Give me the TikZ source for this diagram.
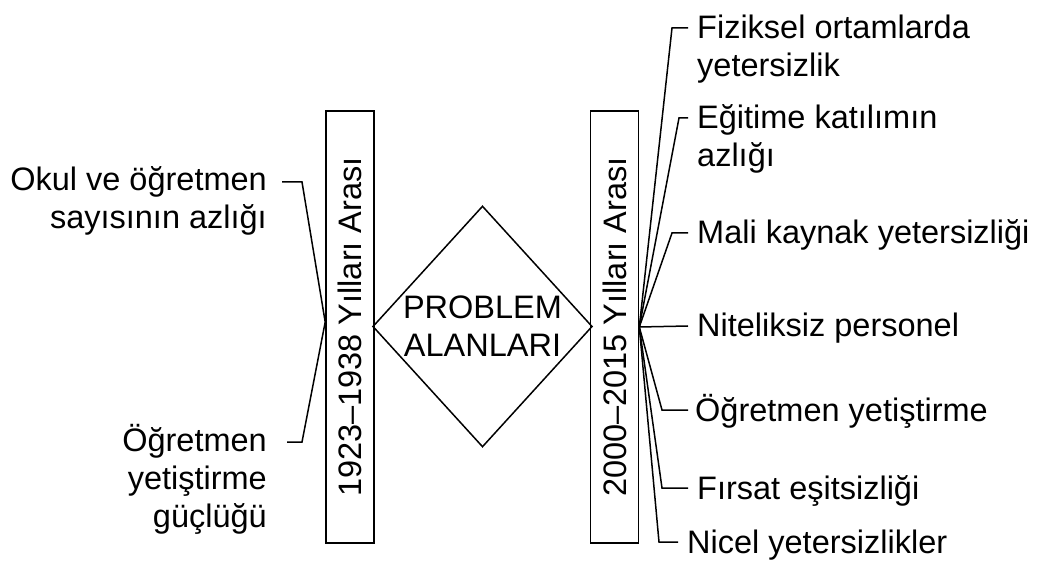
\documentclass[tikz,border=0pt]{standalone}
\usepackage{fontspec}
\setmainfont{Liberation Sans}
\usetikzlibrary{shapes.geometric,calc}
\begin{document}
\begin{tikzpicture}[x=1pt,y=-1pt,
  every node/.style={font=\fontsize{32.5}{38}\selectfont, inner sep=0pt},
  erabox/.style={draw, line width=1.6pt, rotate=90, minimum width=432pt, minimum height=48pt},
  link/.style={line width=1.5pt},
  lbl/.style={anchor=base west},
  lblr/.style={anchor=base east}]
\useasboundingbox (0,0) rectangle (1042,561);

% the two period boxes and the central diamond
\node[erabox] (era1) at (350,327) {1923–1938 Yılları Arası};
\node[erabox] (era2) at (614.5,327) {2000–2015 Yılları Arası};
\node[draw, diamond, line width=1.5pt, minimum width=217pt, minimum height=241pt,
      align=center] (core) at (482.5,326.5) {PROBLEM\\ALANLARI};

% hubs where the connectors meet the boxes
\coordinate (lhub) at ([yshift=5pt]era1.north);
\coordinate (rhub) at (era2.south);

% left-hand labels
\node[lblr] (l1a) at (267,191) {Okul ve öğretmen};
\node[lblr] (l1b) at ([yshift=-38pt]l1a.base east) {sayısının azlığı};
\node[lblr] (l2a) at (267,451) {Öğretmen};
\node[lblr] (l2b) at ([yshift=-38pt]l2a.base east) {yetiştirme};
\node[lblr] (l2c) at ([yshift=-38pt]l2b.base east) {güçlüğü};

\coordinate (lt1) at (282,182);
\coordinate (lt2) at (287,442);
\draw[link] (lhub) -- (302,182) -- (lt1);
\draw[link] (lhub) -- (302,442) -- (lt2);

% right-hand labels
\node[lbl] (r1a) at (697,39) {Fiziksel ortamlarda};
\node[lbl] (r1b) at ([yshift=-38pt]r1a.base west) {yetersizlik};
\node[lbl] (r2a) at (697,129) {Eğitime katılımın};
\node[lbl] (r2b) at ([yshift=-38pt]r2a.base west) {azlığı};
\node[lbl] (r3) at (697,244) {Mali kaynak yetersizliği};
\node[lbl] (r4) at (697,337) {Niteliksiz personel};
\node[lbl] (r5) at (695,421) {Öğretmen yetiştirme};
\node[lbl] (r6) at (697,499) {Fırsat eşitsizliği};
\node[lbl] (r7) at (687,553) {Nicel yetersizlikler};

\coordinate (rt1) at (688,28);
\coordinate (rt2) at (688,118);
\coordinate (rt3) at (688,233);
\coordinate (rt4) at (688,326);
\coordinate (rt5) at (688,410);
\coordinate (rt6) at (688,488);
\coordinate (rt7) at (678,542);
\draw[link] (rhub) -- (672,28) -- (rt1);
\draw[link] (rhub) -- (679,118) -- (rt2);
\draw[link] (rhub) -- (672,233) -- (rt3);
\draw[link] (rhub) -- (rt4);
\draw[link] (rhub) -- (662,410) -- (rt5);
\draw[link] (rhub) -- (662,488) -- (rt6);
\draw[link] (rhub) -- (659,542) -- (rt7);
\end{tikzpicture}
\end{document}
